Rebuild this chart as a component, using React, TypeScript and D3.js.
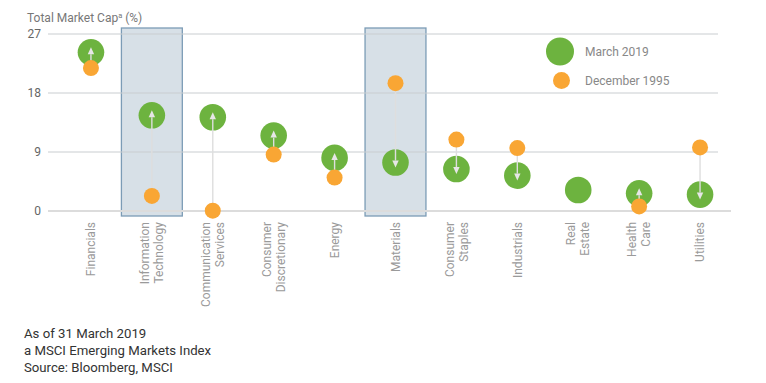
import React from "react";
import * as d3 from "d3";

const categories: string[][] = [
  ["Financials"],
  ["Information", "Technology"],
  ["Communication", "Services"],
  ["Consumer", "Discretionary"],
  ["Energy"],
  ["Materials"],
  ["Consumer", "Staples"],
  ["Industrials"],
  ["Real", "Estate"],
  ["Health", "Care"],
  ["Utilities"],
];
const march2019: number[] = [24.2, 14.6, 14.3, 11.5, 8.1, 7.4, 6.4, 5.4, 3.2, 2.7, 2.5];
const dec1995: (number | null)[] = [21.8, 2.3, 0.05, 8.6, 5.1, 19.5, 10.9, 9.6, null, 0.7, 9.7];
const highlighted: number[] = [1, 5];
const yTicks: number[] = [0, 9, 18, 27];
const footnotes: string[] = ["As of 31 March 2019", "a MSCI Emerging Markets Index", "Source: Bloomberg, MSCI"];

const GREEN = "#6db33f";
const ORANGE = "#f9a634";

export default function App() {
  const W = 766, H = 383;
  const keys = categories.map((c) => c.join(" "));
  const x = d3.scaleBand<string>().domain(keys).range([60.5, 730.5]).padding(0);
  const y = d3.scaleLinear().domain([0, 27]).range([211, 34]);
  const font = "Roboto, 'Liberation Sans', Arial, sans-serif";

  return (
    <div style={{ position: "absolute", left: 0, top: 0 }}>
      <svg width={W} height={H} style={{ display: "block" }} fontFamily={font}>
        <rect width={W} height={H} fill="#fff" />
        {highlighted.map((i) => (
          <rect
            key={"h" + i}
            x={x(keys[i])!}
            y={28}
            width={x.bandwidth()}
            height={188}
            fill="#d7e0e7"
            stroke="#7c9cb6"
            strokeWidth={1.3}
          />
        ))}
        {yTicks.map((t) => (
          <g key={"g" + t}>
            <line
              x1={48}
              x2={t === 0 ? 731 : 718}
              y1={y(t)}
              y2={y(t)}
              stroke={t === 0 ? "#dcdcdc" : "#c9cdd0"}
              strokeWidth={t === 0 ? 2 : 1}
            />
            <text x={41} y={y(t)} dy="0.35em" textAnchor="end" fontSize={12} fill="#666">
              {t}
            </text>
          </g>
        ))}
        <text x={27} y={22} fontSize={12} fill="#777">
          Total Market Cap
          <tspan fontSize={7.5} dy={-4}>a</tspan>
          <tspan dy={4}> (%)</tspan>
        </text>
        {keys.map((k, i) => {
          const cx = x(k)! + x.bandwidth() / 2;
          const g = march2019[i];
          const o = dec1995[i];
          const yg = y(g);
          const parts: React.ReactNode[] = [];
          parts.push(<circle key="g" cx={cx} cy={yg} r={13.3} fill={GREEN} />);
          if (o !== null) {
            const yo = y(o);
            const dir = Math.sign(yg - yo);
            const tip = yg + dir * 5;
            const base = tip - dir * 7;
            parts.push(
              <line key="l" x1={cx} x2={cx} y1={yo} y2={base} stroke="#dedede" strokeWidth={1.4} />
            );
            parts.push(
              <path
                key="a"
                d={`M${cx},${tip}L${cx - 3.2},${base}L${cx + 3.2},${base}Z`}
                fill="#e6e6e6"
              />
            );
            parts.push(<circle key="o" cx={cx} cy={yo} r={8} fill={ORANGE} />);
          }
          return <g key={"p" + i}>{parts}</g>;
        })}
        {categories.map((lines, i) => {
          const cx = x(keys[i])! + x.bandwidth() / 2;
          const n = lines.length;
          return (
            <g key={"x" + i} transform={`translate(${cx},222) rotate(-90)`}>
              {lines.map((ln, j) => (
                <text
                  key={j}
                  x={0}
                  y={(j - (n - 1) / 2) * 14}
                  dy="0.35em"
                  textAnchor="end"
                  fontSize={12}
                  fill="#9a9a9a"
                >
                  {ln}
                </text>
              ))}
            </g>
          );
        })}
        <circle cx={560} cy={51.5} r={14} fill={GREEN} />
        <text x={585} y={51.5} dy="0.35em" fontSize={12} fill="#888">March 2019</text>
        <circle cx={561.5} cy={80.5} r={8.5} fill={ORANGE} />
        <text x={585} y={80.5} dy="0.35em" fontSize={12} fill="#888">December 1995</text>
        {footnotes.map((f, i) => (
          <text key={"f" + i} x={24} y={338 + i * 17} fontSize={13.2} fill="#333">
            {f}
          </text>
        ))}
      </svg>
    </div>
  );
}
